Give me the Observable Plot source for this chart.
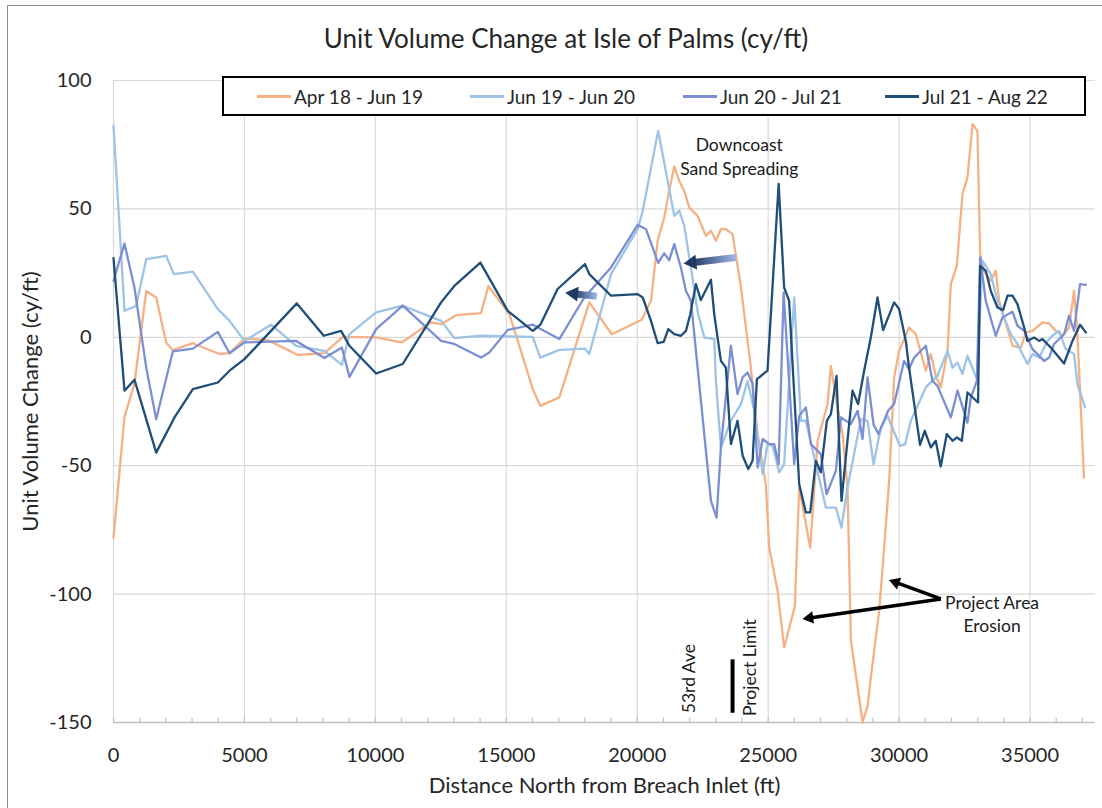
<!DOCTYPE html>
<html><head><meta charset="utf-8">
<script src="https://cdn.jsdelivr.net/npm/d3@7"></script>
<script src="https://cdn.jsdelivr.net/npm/@observablehq/plot@0.6"></script>
<style>
body{margin:0;background:#fff;font-family:Lato,"Open Sans",sans-serif;}
#wrap{position:relative;width:1102px;height:808px;overflow:hidden;background:#fff;}
#frame{position:absolute;left:7px;top:5px;width:1200px;height:900px;border-left:1px solid #8c8c8c;border-top:1px solid #8c8c8c;}
#title{position:absolute;left:15px;top:22px;width:1102px;text-align:center;font-size:26px;line-height:32px;color:#262626;}
#chart{position:absolute;left:0;top:60px;}
#legend{position:absolute;left:222px;top:76px;width:864px;height:40px;box-sizing:border-box;border:2px solid #000;background:#fff;}
.item{position:absolute;top:0;height:36px;display:flex;align-items:center;font-size:19px;color:#262626;white-space:nowrap;}
.swatch{width:34px;height:3px;margin-right:3px;}
</style></head>
<body>
<div id="wrap">
  <div id="frame"></div>
  <div id="title">Unit Volume Change at Isle of Palms (cy/ft)</div>
  <div id="chart"></div>
  <div id="legend"></div>
</div>
<script>
// ---- data: [distance north from Breach Inlet (ft), unit volume change (cy/ft)]
const seriesNames = ["Apr 18 - Jun 19", "Jun 19 - Jun 20", "Jun 20 - Jul 21", "Jul 21 - Aug 22"];
const seriesColors = ["#F4B183", "#9DC3E6", "#7C8FD3", "#1F4E79"];

const apr18_jun19 = [[0,-78],[420,-31],[800,-18],[1250,18],[1630,15.5],[2010,-2],[2265,-5],[3030,-2.3],[4045,-6.5],[4430,-6.2],[5000,-0.5],[5890,-1.1],[7040,-6.9],[8055,-6.2],[8755,0.2],[10030,0],[11000,-2],[12125,5.8],[12510,5.1],[13080,8.6],[14035,9.4],[14315,20],[15115,9],[15560,-5.3],[16010,-20.2],[16300,-26.7],[17025,-23.4],[18170,13.6],[19030,1.2],[20170,6.8],[20525,14.2],[20780,37.6],[21030,46.6],[21220,57],[21415,66.5],[21605,60.9],[21795,57],[21985,50.5],[22305,47.3],[22620,39.5],[22815,41.5],[23005,37.6],[23195,42.1],[23385,42.1],[23640,40.2],[23960,19.4],[24340,-11.8],[24600,-37.7],[24910,-57.2],[25040,-81.9],[25360,-98.7],[25610,-120.8],[26020,-104.6],[26185,-58.5],[26605,-81.9],[26890,-40.3],[27270,-26],[27395,-11.1],[27585,-23.4],[27840,-37.7],[28030,-58.5],[28160,-118],[28605,-150],[28795,-143.5],[28920,-132.5],[29240,-106.5],[29430,-81.9],[29620,-55.9],[29810,-15.6],[30000,-5.3],[30380,3.8],[30640,1.2],[31020,-13],[31210,-6.5],[31400,-15],[31590,-19.5],[31850,-5.3],[31975,20.7],[32205,27.8],[32420,55.8],[32610,62.2],[32805,83],[32990,80.4],[33095,32.4],[33245,25.9],[33500,22],[33690,25.9],[33820,14.2],[34010,7.7],[34330,-3.3],[34645,-4],[34840,1.9],[35095,2.5],[35475,5.8],[35730,5.4],[35985,2.5],[36240,0.6],[36490,3.8],[36680,18.1],[36810,1.2],[37060,-54.6]];

const jun19_jun20 = [[0,82.4],[420,10.3],[866,12.3],[1250,30.4],[2012,31.7],[2305,24.6],[3030,25.6],[3985,11],[4430,6.4],[5000,-1.4],[6020,4.9],[6975,-3.3],[8055,-5.3],[8720,-10.7],[9010,1.2],[10030,9.7],[11045,12.3],[12510,6.4],[13015,-0.3],[14035,0.6],[16010,0.2],[16300,-7.9],[17025,-4.9],[18005,-4.4],[18170,-6.5],[19000,24.6],[20015,42.1],[20210,49.3],[20800,80.4],[21415,47.3],[21605,49.3],[21795,43.5],[22050,27.2],[22305,10],[22560,-0.1],[22940,-0.7],[23005,-17],[23195,-43],[23575,-32.5],[23960,-26],[24215,-17],[24470,-28.6],[24790,-53.3],[24975,-41.6],[25170,-42.3],[25420,-52.6],[25610,-49.4],[25995,15.5],[26250,-32.5],[26440,-32.5],[26760,-46.8],[27205,-66.3],[27585,-66.3],[27800,-74.1],[28030,-58.5],[28280,-45.5],[28540,-31.9],[28795,-32.5],[29025,-49.5],[29305,-35],[29560,-30.6],[29810,-37],[30040,-42.3],[30230,-41.6],[30450,-32.5],[31020,-19.5],[31465,-15],[31850,-5.3],[32040,-11.8],[32230,-9.8],[32420,-14.3],[32610,-7.2],[32970,-16.3],[33185,29.8],[33500,24.6],[33755,14.2],[34265,1.2],[34520,-2.6],[34900,-10.4],[35095,-6.5],[35350,-7.9],[35665,-1.4],[35855,0.6],[36110,2.5],[36365,-4.6],[36680,-6.5],[36810,-18.2],[37100,-27.3]];

const jun20_jul21 = [[0,22],[420,36.5],[800,19.4],[1250,-11.8],[1630,-31.9],[2265,-5.5],[3030,-4.4],[3985,2.1],[4430,-6.2],[5000,-2],[6975,-1.4],[8055,-8.1],[8720,-4],[9010,-15.4],[10030,3.2],[11045,12.3],[12510,-1.4],[13015,-2.6],[14035,-7.9],[14350,-5.9],[15055,2.9],[16010,4.9],[17025,-0.7],[17980,15.5],[19000,27.2],[20015,43.8],[20335,42.1],[20800,29],[21030,32.7],[21220,30],[21415,36.3],[21670,27],[21860,18.1],[22050,14.2],[22815,-63.7],[23030,-70.2],[23195,-42.9],[23575,-3.3],[23830,-22.1],[24025,-15.6],[24215,-13.7],[24405,-18.2],[24600,-50.7],[24790,-39.6],[25040,-41.6],[25230,-41.6],[25400,-49.4],[25590,17.4],[25995,-49.4],[26185,-30.6],[26440,-27.3],[26630,-41.6],[27010,-45.5],[27230,-61.1],[27585,-52],[27780,-31.2],[28160,-33.8],[28415,-28.6],[28605,-39.6],[28795,-15.6],[29025,-34],[29215,-37.7],[29580,-28.6],[29810,-26],[30190,-9.2],[30380,-12.4],[30575,-7.9],[31020,-3.3],[31275,-17],[31465,-18.9],[31975,-31.2],[32230,-20.8],[32610,-33.2],[32740,-23.4],[32970,-17],[33095,31.1],[33310,14.2],[33690,0.6],[33945,7.7],[34330,10],[34520,4.5],[34775,2.5],[35095,-4.6],[35535,-9.2],[35730,-7.9],[35920,-2.6],[36300,1.2],[36490,8.4],[36680,2.5],[36910,20.7],[37130,20.4]];

const jul21_aug22 = [[0,30.8],[420,-20.8],[800,-16.5],[1630,-44.9],[2330,-31.2],[3030,-20.2],[3985,-17.6],[4430,-13],[5000,-8.5],[7000,13.2],[8030,0.6],[8690,2.5],[9010,-3.3],[10030,-14.1],[11045,-10.4],[12510,13.6],[13015,20],[14010,29.1],[15055,10.3],[16010,2.5],[16300,4.9],[16960,18.8],[18005,28.5],[18170,24.6],[19000,16.2],[20015,16.8],[20210,15.5],[20525,6.4],[20780,-2.3],[21010,-1.8],[21185,3.2],[21415,1.2],[21670,0.6],[21860,2.5],[22025,9],[22240,20.7],[22430,14.5],[22815,22.4],[22940,9],[23195,-9.2],[23385,-11.8],[23577,-41.6],[23830,-32.5],[24025,-46.1],[24240,-51.3],[24405,-48.1],[24570,-16.3],[24975,-13],[25400,59.7],[25610,19.4],[25800,14.2],[26185,-57.2],[26440,-68.2],[26605,-68.2],[26820,-48.1],[27010,-52.6],[27240,-32.5],[27395,-29.9],[27610,-15],[27800,-63.7],[28220,-20.8],[28435,-26],[28665,-13],[28920,-0.1],[29175,15.5],[29390,2.8],[29810,13.6],[30000,11],[30255,-1.4],[30380,-11.8],[30800,-41.9],[30980,-36.4],[31210,-42.9],[31400,-40.3],[31590,-50.3],[31820,-37.7],[32040,-40.3],[32205,-39],[32395,-40.3],[32610,-21.5],[33015,-25.4],[33095,27.8],[33310,25.9],[33500,18.1],[33755,11.6],[33970,10.6],[34140,16.2],[34330,16.2],[34520,12.9],[34775,3.8],[34900,-1.4],[35155,-0.1],[35350,-1.4],[35475,-0.7],[35790,-4],[36300,-10.2],[36620,-1.4],[36910,4.9],[37130,1.9]];

const xTicks = [0, 5000, 10000, 15000, 20000, 25000, 30000, 35000];
const yTicks = [-150, -100, -50, 0, 50, 100];
const xMinorTicks = d3.range(0, 37001, 1000);

// annotations (data coordinates)
const textNotes = [
  {x: 23895, y: 74.6, text: "Downcoast"},
  {x: 23895, y: 65.5, text: "Sand Spreading"},
  {x: 33550, y: -103.8, text: "Project Area"},
  {x: 33550, y: -112.7, text: "Erosion"}
];
const rotatedNotes = [
  {x: 21985, y: -132.9, text: "53rd Ave"},
  {x: 24315, y: -128.6, text: "Project Limit"}
];
const projectLimitBar = [{x: 23640, y1: -125.6, y2: -146.4}];
const gradientArrows = [
  {x1: 23770, y1: 31.1, x2: 21770, y2: 28.7},
  {x1: 18460, y1: 16.0, x2: 17250, y2: 17.3}
];
const blackArrows = [
  {x1: 31595, y1: -101.9, x2: 29620, y2: -94.5},
  {x1: 31595, y1: -101.9, x2: 26315, y2: -109.7}
];

const W = 1102, H = 748, mT = 20, mB = 86, mL = 113, mR = 7;
const xDomain = [0, 37500], yDomain = [-150, 100];
const kx = (W - mL - mR) / (xDomain[1] - xDomain[0]);
const ky = (H - mT - mB) / (yDomain[1] - yDomain[0]);
// arrow shaft (shortened) + filled triangular head placed at the tip
function arrowParts(a, headLen, shaftBack) {
  const dxp = (a.x2 - a.x1) * kx, dyp = -(a.y2 - a.y1) * ky;
  const L = Math.hypot(dxp, dyp), ux = dxp / L, uy = dyp / L;
  return {
    shaft: {x1: a.x1, y1: a.y1, x2: a.x2 - ux * shaftBack / kx, y2: a.y2 + uy * shaftBack / ky},
    head: {x: a.x2 - ux * headLen / kx, y: a.y2 + uy * headLen / ky, rotate: Math.atan2(ux, -uy) * 180 / Math.PI}
  };
}
const gParts = gradientArrows.map(a => arrowParts(a, 8.5, 8));
const bParts = blackArrows.map(a => arrowParts(a, 7, 7));

const allSeries = [apr18_jun19, jun19_jun20, jun20_jul21, jul21_aug22];
const rows = allSeries.flatMap((s, i) => s.map(([x, y]) => ({series: seriesNames[i], x, y})));

const chart = Plot.plot({
  width: W, height: H,
  marginTop: mT, marginBottom: mB, marginLeft: mL, marginRight: mR,
  style: {fontFamily: "Lato, 'Open Sans', sans-serif", fontSize: "20px", color: "#262626", background: "transparent"},
  x: {domain: xDomain},
  y: {domain: yDomain},
  color: {domain: seriesNames, range: seriesColors},
  marks: [
    Plot.gridY(yTicks, {stroke: "#d9d9d9", strokeOpacity: 1, strokeWidth: 1.2}),
    Plot.gridX(xTicks, {stroke: "#d9d9d9", strokeOpacity: 1, strokeWidth: 1.2}),
    Plot.ruleY([-150], {stroke: "#bfbfbf", strokeWidth: 1.3}),
    Plot.ruleX(xMinorTicks, {x: d => d, y1: -150, y2: -148.3, stroke: "#bfbfbf", strokeWidth: 1.2}),
    Plot.axisX(xTicks, {tickSize: 0, tickPadding: 25, label: null, tickFormat: d => String(d), fontSize: 20}),
    Plot.axisY(yTicks, {tickSize: 0, tickPadding: 22, label: null, tickFormat: d => String(d), fontSize: 20}),
    Plot.text(["Distance North from Breach Inlet (ft)"], {frameAnchor: "bottom", dy: 63, fontSize: 22, lineAnchor: "middle"}),
    Plot.text(["Unit Volume Change (cy/ft)"], {frameAnchor: "left", textAnchor: "middle", dx: -83, rotate: -90, fontSize: 22, lineAnchor: "middle"}),
    Plot.line(rows, {x: "x", y: "y", z: "series", stroke: "series", strokeWidth: 2.3, strokeLinejoin: "round"}),
    Plot.text(textNotes, {x: "x", y: "y", text: "text", fontSize: 17.5, fill: "#1a1a1a"}),
    Plot.text(rotatedNotes, {x: "x", y: "y", text: "text", rotate: -90, fontSize: 17.5, fill: "#1a1a1a"}),
    Plot.ruleX(projectLimitBar, {x: "x", y1: "y1", y2: "y2", stroke: "#000", strokeWidth: 4}),
    Plot.link(gParts.map(p => p.shaft), {x1: "x1", y1: "y1", x2: "x2", y2: "y2", stroke: "url(#arrowGrad)", strokeWidth: 7}),
    Plot.dot(gParts.map(p => p.head), {x: "x", y: "y", rotate: "rotate", symbol: "triangle", r: 5.5, fill: "#203864", stroke: "none"}),
    Plot.link(bParts.map(p => p.shaft), {x1: "x1", y1: "y1", x2: "x2", y2: "y2", stroke: "#000", strokeWidth: 3.5}),
    Plot.dot(bParts.map(p => p.head), {x: "x", y: "y", rotate: "rotate", symbol: "triangle", r: 4.6, fill: "#000", stroke: "none"})
  ]
});

const ns = "http://www.w3.org/2000/svg";
const defs = document.createElementNS(ns, "defs");
defs.innerHTML = '<linearGradient id="arrowGrad" x1="1" y1="0" x2="0" y2="0"><stop offset="0" stop-color="#9FB6E6"/><stop offset="1" stop-color="#203864"/></linearGradient>';
chart.prepend(defs);
document.getElementById("chart").appendChild(chart);

const legend = document.getElementById("legend");
const itemLeft = [33, 246, 459, 661];
seriesNames.forEach((name, i) => {
  const it = document.createElement("div");
  it.className = "item";
  it.style.left = itemLeft[i] + "px";
  it.innerHTML = `<span class="swatch" style="background:${seriesColors[i]}"></span><span>${name}</span>`;
  legend.appendChild(it);
});
</script>
</body></html>
